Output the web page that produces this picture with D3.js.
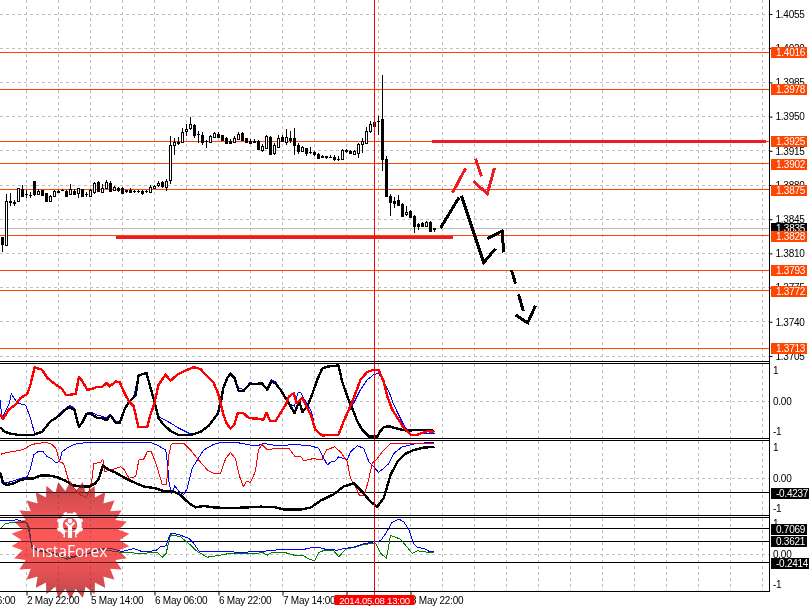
<!DOCTYPE html>
<html><head><meta charset="utf-8">
<script src="https://cdn.jsdelivr.net/npm/d3@7"></script>
<style>
html,body{margin:0;padding:0;background:#fff}
svg{display:block}
text{font-family:"Liberation Sans",Arial,sans-serif;font-size:10px;fill:#000;letter-spacing:-.25px}
</style></head><body><div id="chart"></div>
<script>
// Candles in points (1 point = 0.0001)
const open=[13827,13819,13864,13863,13864,13876,13871,13870,13884,13871,
13875,13872,13864,13869,13874,13875,13874,13871,13874,13872,
13876,13871,13869,13873,13883,13873,13877,13882,13875,13877,
13877,13875,13875,13874,13874,13874,13874,13873,13877,13880,
13883,13878,13885,13921,13924,13924,13935,13938,13941,13932,
13931,13925,13924,13929,13932,13931,13928,13925,13924,13927,
13933,13928,13925,13925,13925,13916,13918,13929,13913,13919,
13929,13924,13928,13928,13921,13915,13918,13914,13914,13912,
13910,13910,13909,13909,13907,13907,13916,13915,13912,13913,
13922,13923,13935,13940,13946,13948,13907,13869,13864,13865,
13861,13850,13853,13848,13840,13841,13838,13842,13836];
const high=[13827,13871,13872,13865,13877,13880,13875,13873,13884,13876,
13875,13872,13870,13875,13875,13876,13875,13881,13876,13877,
13876,13873,13876,13883,13884,13881,13885,13884,13879,13878,
13878,13875,13877,13875,13875,13875,13875,13880,13880,13884,
13884,13886,13930,13928,13929,13938,13942,13950,13942,13935,
13934,13926,13931,13934,13934,13931,13929,13927,13930,13934,
13934,13928,13927,13927,13926,13922,13931,13930,13923,13931,
13931,13937,13935,13938,13923,13920,13918,13919,13915,13913,
13911,13910,13911,13911,13910,13917,13917,13916,13916,13923,
13928,13939,13946,13949,13951,13993,13910,13871,13868,13870,
13862,13859,13854,13849,13841,13842,13843,13843,13836];
const low=[13811,13819,13859,13859,13863,13868,13867,13867,13869,13870,
13869,13864,13864,13868,13872,13874,13869,13870,13870,13867,
13869,13868,13869,13871,13874,13872,13876,13874,13874,13873,
13872,13872,13872,13872,13872,13870,13872,13873,13876,13878,
13877,13874,13881,13911,13921,13923,13930,13936,13928,13923,
13921,13918,13923,13928,13928,13925,13923,13923,13923,13926,
13926,13923,13923,13923,13916,13914,13918,13911,13911,13919,
13924,13921,13923,13911,13912,13914,13910,13912,13910,13908,
13908,13907,13908,13905,13905,13906,13913,13912,13912,13908,
13913,13923,13933,13935,13931,13894,13868,13848,13856,13860,
13847,13848,13846,13831,13834,13838,13838,13832,13832];
const close=[13820,13864,13863,13862,13877,13869,13871,13870,13871,13874,
13870,13864,13869,13874,13873,13875,13869,13876,13871,13877,
13869,13871,13875,13882,13874,13877,13883,13874,13878,13875,
13872,13874,13873,13874,13874,13872,13874,13878,13879,13882,
13879,13884,13921,13924,13923,13934,13937,13942,13931,13932,
13924,13925,13930,13933,13929,13926,13923,13923,13928,13932,
13926,13924,13923,13924,13917,13920,13930,13912,13921,13928,
13925,13929,13926,13921,13915,13919,13913,13914,13912,13908,
13909,13909,13909,13907,13907,13916,13915,13913,13915,13922,
13925,13935,13942,13944,13945,13907,13869,13863,13862,13860,
13848,13852,13847,13838,13838,13838,13842,13833,13835];

const priceTicks=[1.4055,1.4020,1.3985,1.3950,1.3915,1.3880,1.3845,1.3810,1.3775,1.3740,1.3705];
const levels=[1.4016,1.3978,1.3925,1.3902,1.3875,1.3828,1.3793,1.3772,1.3713];
const currentPrice=1.3835;
const gridBars=[6,14,22,30,38,46,54,62,70,78,86,94,102,110,118,126,134,142,150,158,166,174,182,190];
const timeBars=[-10,6,22,38,54,70,86,102];
const timeLabels=["2 May 06:00","2 May 22:00","5 May 14:00","6 May 06:00","6 May 22:00","7 May 14:00","8 May 06:00","8 May 22:00"];
const cursorBar=93, cursorLabel="2014.05.08 13:00";

// Thick horizontal drawn lines [barFrom, barTo, price]
const thickLines=[[107.25,190.75,1.39255],[28.25,112.5,1.3827]];
// Hand drawn forecast strokes [bar, points]
const blackStrokes=[
 [[109.5,13836],[114.1,13867]],
 [[114.75,13869],[120.3,13800.5],[123.25,13815]],
 [[121.2,13825],[124.9,13833],[125.3,13811]],
 [[127.25,13793],[128.25,13779]],
 [[129,13768],[130.2,13751]],
 [[128.25,13747],[131.3,13739],[133.25,13756.5]]];
const redStrokes=[
 [[112.5,13872],[115.75,13897]],
 [[118.25,13907],[119.75,13889]],
 [[117.7,13884],[121.2,13871],[123,13897.5]]];

// Pane 1 [bar,value]
const p1Black=[[-.5,-.74],[.3,-.85],[1.6,-.91],[3.7,-.95],[7.8,-.95],[9.9,-.87],[12,-.57],[13.3,-.48],[14.5,-.38],[15.8,-.24],[16.6,-.18],[18,-.24],[18.5,-.48],[19.1,-.72],[19.9,-.62],[21,-.37],[22,-.35],[23.7,-.48],[24.9,-.48],[26,-.54],[27,-.40],[28.3,-.62],[29.3,-.62],[30.5,-.24],[31.6,-.03],[33.3,.16],[34,.72],[36,.79],[37,.37],[38,-.01],[39,-.48],[40.3,-.67],[42,-.84],[44,-.96],[47,-.96],[49.5,-.87],[51.6,-.69],[53.7,-.38],[54.5,-.10],[55.2,.37],[56.2,.65],[57,.76],[58,.65],[59,.29],[60.3,.29],[61.8,.48],[64.9,.49],[66.2,.32],[67.2,.55],[68.2,.50],[69.5,.32],[70.8,.08],[72,-.15],[73,-.34],[74.2,-.01],[75,-.31],[76.2,-.15],[77.4,.18],[78.7,.60],[79.9,.91],[81.2,.97],[84,1.0],[84.9,.55],[86.2,.13],[87.4,-.20],[88.7,-.57],[89.9,-.81],[91.6,-1.0],[93.7,-1.0],[94.5,-.85],[95.3,-.74],[96.6,-.71],[98.7,-.78],[101.2,-.84],[103.7,-.81],[107,-.81],[108,-.87]];
const p1Red=[[-.5,-.38],[.2,-.50],[1.6,-.24],[3.3,-.10],[4.5,.08],[6.2,.20],[7,.46],[8,.95],[9.9,.88],[11.2,.65],[13.3,.46],[14.9,.34],[15.9,.16],[18.3,.20],[19.1,.67],[19.9,.57],[21.2,.32],[22.4,.34],[23.7,.40],[24.9,.39],[26,.51],[26.8,.41],[28.3,.55],[29.3,.53],[30.5,.22],[31.6,-.01],[32.8,-.15],[34,-.74],[36.2,-.74],[37,-.38],[38,-.06],[39,.46],[40.8,.74],[42,.57],[43.7,.74],[45.8,.86],[47.8,.95],[49.5,.90],[51.2,.69],[52.8,.51],[54,.18],[54.5,-.06],[55.2,-.38],[56,-.62],[57,-.78],[58,-.65],[58.8,-.34],[60.2,-.34],[61.6,-.48],[64,-.50],[65.2,-.53],[66,-.34],[67,-.57],[68.2,-.57],[69.3,-.38],[70.8,-.10],[71.6,.13],[72.8,.22],[73.5,-.06],[74,-.01],[75,.08],[76.2,-.20],[77.2,-.43],[78.2,-.81],[79.9,-.97],[84,-.95],[85.3,-.57],[86.6,-.24],[87.8,.08],[89.5,.60],[91.2,.82],[92.8,.88],[94,.88],[95.3,.55],[96.2,.13],[97.4,-.24],[99,-.52],[100.3,-.76],[102,-.95],[103.7,-.95],[106.2,-.85],[108,-.87]];
const p1Blue=[[-.5,.04],[-.25,-.48],[.3,-.38],[1.6,-.10],[2.2,.20],[3.7,-.06],[5.8,-.12],[7,-.48],[8.1,-.95],[9.9,-.87],[12,-.55],[13.3,-.46],[14.5,-.34],[15.8,-.20],[16.8,-.13],[18,-.20],[18.5,-.48],[19.1,-.69],[19.9,-.57],[21,-.34],[22,-.31],[23.7,-.40],[24.9,-.43],[26,-.48],[27,-.37],[28.3,-.57],[29.3,-.57],[30.5,-.20],[31.6,-.01],[32.8,.13],[34,.72],[36,.79],[37,.37],[38,-.01],[39,-.43],[40.3,-.52],[42,-.62],[44,-.76],[47,-.93],[49.5,-.87],[51.6,-.67],[53.7,-.34],[54.5,.08],[55.2,.41],[56.2,.69],[57,.79],[58,.67],[59,.37],[60.3,.32],[61.8,.51],[64.9,.49],[66.2,.34],[67.2,.60],[68.2,.55],[69.5,.32],[70.8,.08],[72,-.10],[73,-.15],[73.8,.22],[74.5,.25],[75.3,.08],[76.2,-.10],[77.2,-.29],[78.2,-.76],[79.9,-.98],[84,-.95],[85.3,-.62],[86.6,-.29],[87.8,-.06],[89.5,.32],[91.2,.60],[92.8,.74],[94,.79],[95.3,.55],[96.6,.27],[97.8,-.10],[99,-.38],[100.3,-.67],[102,-.95],[103.7,-.93],[106.2,-.91],[108,-.91]];
// Pane 2
const p2Black=[[-.5,.13],[.2,-.15],[1.2,-.20],[2.8,-.15],[4.5,-.06],[6.2,-.01],[7.8,-.01],[9.5,.07],[11.6,.07],[13.7,.02],[15.8,-.08],[17.4,-.20],[19.5,-.24],[21.6,-.24],[23.2,-.15],[24.1,-.01],[25.1,.35],[26.6,.23],[28.3,.15],[30.3,.02],[32.4,-.10],[35.3,-.24],[38.2,-.29],[40.3,-.37],[42.8,-.38],[44.5,-.48],[46.6,-.71],[48.3,-.83],[50.3,-.79],[52.8,-.83],[54.5,-.84],[57,-.85],[61.2,-.83],[64.5,-.81],[67.8,-.82],[70.3,-.89],[74.5,-.89],[77,-.84],[79.5,-.64],[82.8,-.46],[85.3,-.24],[87.8,-.15],[89.9,-.38],[92,-.67],[93.7,-.81],[95.3,-.57],[97,.08],[98.7,.46],[100.8,.69],[102.8,.79],[105.3,.86],[108,.88]];
const p2Red=[[-.5,.67],[1.2,.72],[3.3,.76],[5.3,.81],[7.4,.95],[10.3,1.0],[12,.98],[13.3,.85],[14.3,.46],[15.3,.41],[16.6,-.10],[18.3,-.34],[19.5,-.48],[21,-.55],[22.2,-.20],[22.8,.41],[24.5,.44],[25.1,.54],[25.5,.18],[27.4,.23],[29.5,.32],[30.5,.23],[31.6,-.01],[33.3,.04],[34.1,.51],[35.2,.51],[36.2,.74],[37.2,.74],[38.2,.46],[39.5,-.01],[39.9,-.18],[41,-.18],[41.6,.65],[42.2,.96],[45.3,.98],[47,.79],[48.7,.55],[51.2,.23],[52.8,.13],[54.5,.13],[55.8,.55],[57,.72],[58.2,.55],[59.3,.04],[60.2,-.24],[61,-.10],[62,-.12],[63.2,.18],[64,.79],[64.9,.95],[66.2,.79],[68.2,.84],[71.6,.84],[73.2,.60],[74.5,.62],[75.3,.49],[77.4,.54],[79.9,.53],[81,.79],[83,.88],[84.5,.74],[86.2,.46],[87,-.01],[88.2,-.24],[89.3,-.51],[90.5,-.48],[91.6,-.01],[92.4,.41],[93.7,.55],[95.3,.79],[97,.98],[100.3,.98],[103.7,.98],[107.8,.98]];
const p2Blue=[[-.5,.18],[-.1,-.15],[1.2,-.13],[2.8,-.08],[4.5,-.01],[6.2,.04],[7,.27],[7.8,.65],[8.8,.74],[10.2,.74],[11.2,.60],[12.4,.54],[13.3,.44],[14.3,.46],[14.9,.74],[16.6,.88],[18.7,.98],[22,1.0],[27,1.0],[37,1.0],[38.7,.93],[40.8,.79],[41.2,.46],[41.6,-.10],[42.2,-.43],[43.1,-.22],[44.1,-.38],[45.3,-.46],[46.2,-.29],[47.4,.27],[48.7,.51],[50.3,.79],[52.8,.95],[54.5,1.0],[58.7,1.0],[62,.93],[64,.92],[65.3,.98],[66.6,.95],[68.7,.91],[71.2,.93],[72.8,.95],[77,.91],[79,.84],[79.9,.65],[81.2,.37],[82.2,.46],[83.2,.48],[84,.60],[86.2,.51],[87,.74],[88.7,.91],[90.3,.84],[91.6,.46],[92.8,.32],[94,.16],[95.3,.27],[96.6,.41],[97.8,.69],[99.9,.88],[103.7,.98],[107.8,1.0]];
// Pane 3
const p3Green=[[-.5,.72],[.75,.86],[2.8,.89],[5.75,.89],[6.3,.82],[7,.39],[7.4,.16],[9.5,.07],[12,.04],[16.2,-.15],[19.5,-.03],[22,.02],[24.5,.13],[27,.09],[30.3,.04],[34.5,.02],[38.7,.04],[40,-.09],[40.9,.02],[42,.54],[44.5,.49],[47,.25],[48.7,.07],[51.2,-.09],[54.5,-.03],[57,.02],[59.5,.01],[63.7,.02],[64.9,.05],[66.2,-.03],[67.4,.05],[70.3,.05],[72.8,-.03],[74.9,-.03],[76.6,-.14],[78,-.19],[79.1,.04],[80.3,.10],[82.8,.09],[84.1,-.08],[85.8,.14],[87.8,.18],[90.3,.27],[93.3,.30],[94.5,.02],[96,-.12],[97,.52],[99.5,.42],[102.4,.02],[103.7,.09],[106.2,.05],[107.8,.04]];
const p3Blue=[[-.5,.94],[3.7,.96],[6,.89],[6.6,.77],[7.2,.30],[7.8,.16],[10.3,.09],[12.8,.04],[16.2,-.09],[19.5,-.03],[22,.04],[24.5,.16],[27,.16],[29.9,.07],[32.8,.15],[34.9,.07],[38.3,.09],[39.5,.21],[40.9,.23],[42,.58],[43.7,.56],[46.6,.44],[47.8,.30],[49.1,.08],[54.5,.07],[59.5,.05],[65.3,.07],[66.6,.10],[69.5,.12],[75.3,.13],[77,.17],[79.5,.17],[81.2,.12],[83.7,.11],[85.8,.16],[87.8,.19],[90.3,.29],[93.3,.35],[94.5,.37],[95.8,.58],[97.4,.89],[99.1,.98],[100.3,.91],[101.6,.68],[102.8,.30],[103.7,.18],[105.3,.16],[106.6,.08],[107.8,.07]];
const p2Level=-0.4237, p3Levels=[0.7069,0.3621,-0.2414];

const W=809,H=609,AX=769.5;
const COL={grid:"#c0c0c0",level:"#ff4500",thick:"#ed1c24",cursor:"#ff0000"};
const x=d3.scaleLinear().domain([0,108]).range([2.5,434.5]);
const yP=d3.scaleLinear().domain([1.4055,1.3705]).range([14,356]);
const yA=d3.scaleLinear().domain([1,-1]).range([365.5,436.5]);
const yB=d3.scaleLinear().domain([1,-1]).range([442.6,513.4]);
const yC=d3.scaleLinear().domain([1,-1]).range([518.5,589.5]);
const snap=v=>Math.round(v-.5)+.5;
const pt=v=>v/10000;

const svg=d3.select("#chart").append("svg").attr("width",W).attr("height",H).attr("viewBox",[0,0,W,H]);
svg.append("rect").attr("width",W).attr("height",H).attr("fill","#fff");
const hline=(g,y,col,w,dash)=>g.append("line").attr("x1",0).attr("x2",AX).attr("y1",snap(y)).attr("y2",snap(y))
  .attr("stroke",col).attr("stroke-width",w||1).attr("stroke-dasharray",dash||null).attr("shape-rendering","crispEdges");

// grid
const grid=svg.append("g");
gridBars.forEach(b=>{const px=snap(x(b));
  [[0,361],[364,438],[441,515],[518,591]].forEach(([a,c])=>grid.append("line").attr("x1",px).attr("x2",px).attr("y1",a).attr("y2",c)
  .attr("stroke",COL.grid).attr("stroke-dasharray","3,3").attr("shape-rendering","crispEdges"));});
priceTicks.forEach(p=>hline(grid,yP(p),COL.grid,1,"3,3"));
[yA,yB,yC].forEach(s=>hline(grid,s(0),COL.grid,1,"3,3"));

// levels
hline(svg,yP(currentPrice),"#c0c0c0");
levels.forEach(l=>hline(svg,yP(l),COL.level));

// thick lines
thickLines.forEach(([a,b,p])=>svg.append("line").attr("x1",x(a)).attr("x2",x(b)).attr("y1",Math.round(yP(p))+.5).attr("y2",Math.round(yP(p))+.5)
  .attr("stroke",COL.thick).attr("stroke-width",3).attr("shape-rendering","crispEdges"));

// candles
const cg=svg.append("g").attr("shape-rendering","crispEdges");
open.forEach((o,i)=>{
  const c=close[i],cx=x(i),yt=Math.round(yP(pt(Math.max(o,c)))),yb=Math.round(yP(pt(Math.min(o,c))));
  cg.append("line").attr("x1",cx).attr("x2",cx).attr("y1",Math.round(yP(pt(high[i])))).attr("y2",Math.round(yP(pt(low[i]))))
    .attr("stroke","#000");
  if(o===c){cg.append("line").attr("x1",cx-1.5).attr("x2",cx+1.5).attr("y1",yt+.5).attr("y2",yt+.5).attr("stroke","#000");}
  else if(c>o){cg.append("rect").attr("x",cx-1).attr("y",yt+.5).attr("width",2).attr("height",Math.max(1,yb-yt)).attr("fill","#fff").attr("stroke","#000");}
  else{cg.append("rect").attr("x",cx-1.5).attr("y",yt).attr("width",3).attr("height",Math.max(1,yb-yt+1)).attr("fill","#000");}
});

// forecast strokes
const strokeLine=d3.line().x(d=>x(d[0])).y(d=>yP(pt(d[1])));
const drawStroke=(d,col)=>svg.append("path").attr("d",strokeLine(d)).attr("fill","none").attr("stroke",col).attr("stroke-width",3)
  .attr("stroke-linejoin","miter").attr("shape-rendering","crispEdges");
blackStrokes.forEach(s=>drawStroke(s,"#000"));
redStrokes.forEach(s=>drawStroke(s,COL.thick));

// panes
const drawSeries=(data,scale,col,w)=>svg.append("path")
  .attr("d",d3.line().x(d=>x(d[0])).y(d=>scale(d[1]))(data))
  .attr("fill","none").attr("stroke",col).attr("stroke-width",w).attr("stroke-linejoin","round").attr("shape-rendering","crispEdges");
hline(svg,yB(p2Level),"#000");
p3Levels.forEach(l=>hline(svg,yC(l),"#000"));
drawSeries(p1Blue,yA,"#0000ff",1);
drawSeries(p1Black,yA,"#000",2.4);
drawSeries(p1Red,yA,"#ff0000",2.4);
drawSeries(p2Blue,yB,"#0000ff",1);
drawSeries(p2Red,yB,"#ff0000",1);
drawSeries(p2Black,yB,"#000",2.4);
drawSeries(p3Green,yC,"#008000",1);
drawSeries(p3Blue,yC,"#0000ff",1);

// cursor
svg.append("line").attr("x1",snap(x(cursorBar))).attr("x2",snap(x(cursorBar))).attr("y1",0).attr("y2",595)
  .attr("stroke",COL.cursor).attr("shape-rendering","crispEdges");

// logo
const defs=svg.append("defs");
const lg=defs.append("linearGradient").attr("id","star").attr("x1",0).attr("x2",0).attr("y1",0).attr("y2",1);
[[0,"#c2474a"],[.25,"#e65255"],[.5,"#ff5858"],[.75,"#e65255"],[1,"#bf4548"]].forEach(([o,c])=>lg.append("stop").attr("offset",o).attr("stop-color",c));
const logo=svg.append("g").attr("transform","translate(70.5,540)");
const nPts=30;
const star=d3.range(nPts*2).map(k=>{const r=k%2?49:59,a=k*Math.PI/nPts;return [r*Math.sin(a),-r*Math.cos(a)];});
logo.append("path").attr("d",d3.line()(star)+"Z").attr("fill","url(#star)").style("mix-blend-mode","multiply");
logo.append("path").attr("d",d3.line()(star)+"Z").attr("fill","url(#star)").attr("opacity",.4);
const gear=logo.append("g").attr("transform","translate(-.5,-15)");
gear.append("circle").attr("r",9.5).attr("fill","none").attr("stroke","#fff").attr("stroke-width",4.5);
d3.range(8).forEach(k=>gear.append("rect").attr("x",-1.8).attr("y",-13.5).attr("width",3.6).attr("height",4).attr("fill","#fff").attr("transform",`rotate(${k*45+22.5})`));
gear.append("rect").attr("x",-5).attr("y",7).attr("width",10).attr("height",7).attr("fill","#f05454");
gear.append("circle").attr("cy",-4).attr("r",2.4).attr("fill","#fff");
gear.append("path").attr("d","M-4.5,-2.5L-1,1V13M4.5,-2.5L1,1V13").attr("fill","none").attr("stroke","#fff").attr("stroke-width",2.2);
logo.append("text").attr("x",-1).attr("y",17).attr("text-anchor","middle")
  .style("font-family","'Open Sans',sans-serif").style("font-size","15.5px").style("letter-spacing","0").style("fill","#fff").text("InstaForex");

// frames
[361,363,438,440,515,517,591].forEach(y=>hline(svg,y,"#000"));
svg.append("line").attr("x1",AX).attr("x2",AX).attr("y1",0).attr("y2",591.5).attr("stroke","#000").attr("stroke-width",1.5).attr("shape-rendering","crispEdges");

// right axis
const axP=svg.append("g").attr("transform",`translate(${AX},0)`)
  .call(d3.axisRight(yP).tickValues(priceTicks).tickFormat(d3.format(".4f")).tickSize(3).tickPadding(3));
axP.select(".domain").remove();
axP.selectAll("text").style("font-size","10px").style("font-family","'Liberation Sans'");
const paneAxis=(scale)=>{const g=svg.append("g");
  [[1,"1",5],[0,"0.00",0],[-1,"-1",-5]].forEach(([v,t,o])=>g.append("text").attr("x",773).attr("y",scale(v)+o).attr("dy",".35em").text(t));};
[yA,yB,yC].forEach(paneAxis);

// value boxes
const box=(y,t,fill,wd)=>{const g=svg.append("g");
  g.append("rect").attr("x",771).attr("y",Math.round(y)-5).attr("width",wd||36).attr("height",11).attr("fill",fill);
  g.append("text").attr("x",776).attr("y",Math.round(y)+.5).attr("dy",".35em").style("fill","#fff").text(t);};
box(yP(currentPrice)-1,"1.3835","#000");
levels.forEach(l=>box(yP(l),d3.format(".4f")(l),COL.level));
box(yB(p2Level),"-0.4237","#000",38);
p3Levels.forEach(l=>box(yC(l),l<0?"-0.2414":d3.format(".4f")(l),"#000",l<0?38:36));

// bottom axis
const xTime=d3.scaleOrdinal().domain(timeBars).range(timeBars.map(b=>x(b)));
const axT=svg.append("g").attr("transform","translate(0,591.5)")
  .call(d3.axisBottom(xTime).tickValues(timeBars).tickFormat((d,i)=>timeLabels[i]).tickSize(4).tickPadding(2));
axT.select(".domain").remove();
axT.selectAll("text").attr("text-anchor","start").attr("dy","0.6em").style("font-size","10px").style("font-family","'Liberation Sans'");
const cx=snap(x(cursorBar));
svg.append("rect").attr("x",cx-40).attr("y",595).attr("width",80).attr("height",10).attr("fill",COL.cursor);
svg.append("text").attr("x",cx).attr("y",600.5).attr("dy",".35em").attr("text-anchor","middle").style("fill","#fff").style("font-size","9.6px").text(cursorLabel);
</script></body></html>
